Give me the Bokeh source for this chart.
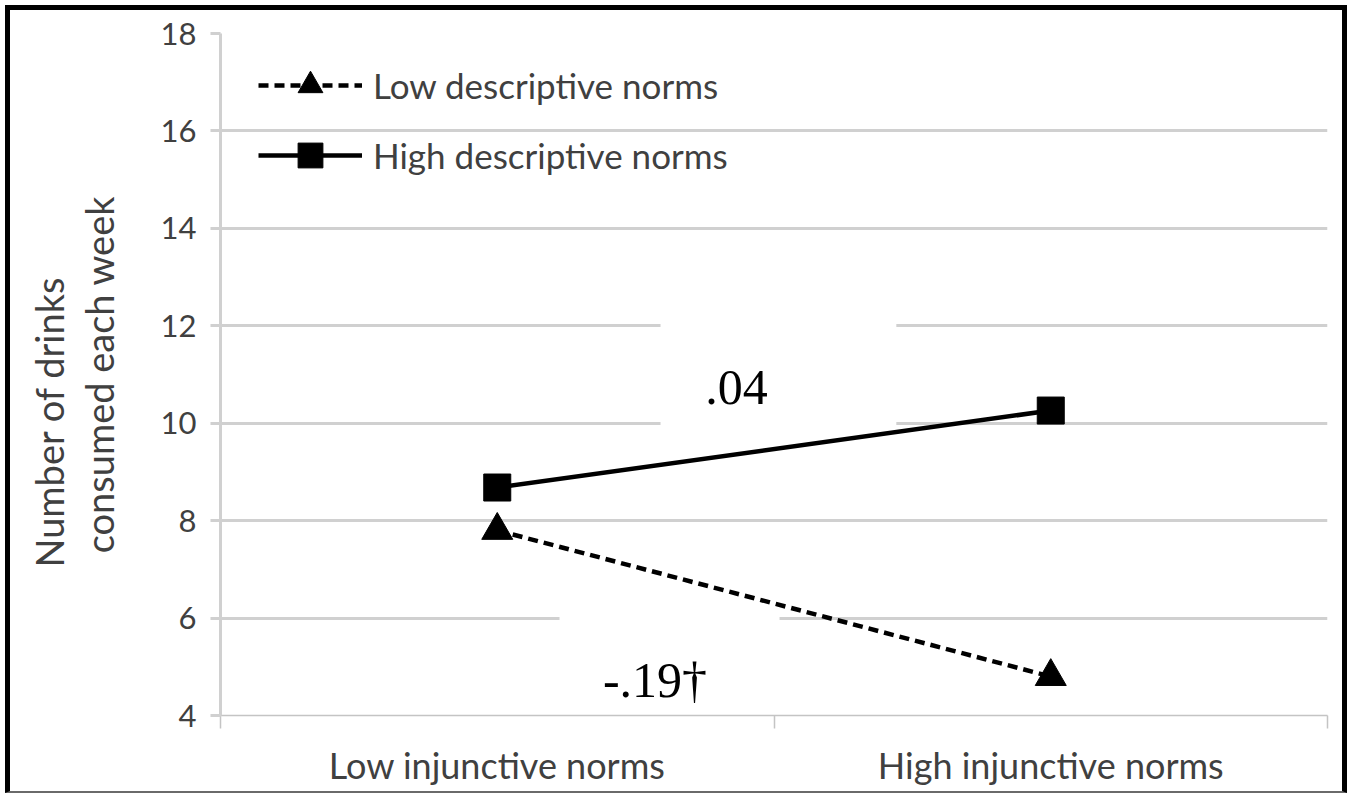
from bokeh.plotting import figure
from bokeh.models import (FixedTicker, Legend, LegendItem, Label, BoxAnnotation, Range1d, Title)
from bokeh.embed import file_html
from bokeh.resources import INLINE

# ---- data ----
categories = ["Low injunctive norms", "High injunctive norms"]
series_names = ["Low descriptive norms", "High descriptive norms"]
low_desc = [7.8, 4.8]
high_desc = [8.68, 10.26]
y_ticks = [4, 6, 8, 10, 12, 14, 16, 18]
y_label_lines = ["Number of drinks", "consumed each week"]
slope_labels = [".04", "-.19\u2020"]

# ---- layout constants ----
W, H = 1342, 788
SANS = "Lato"
SERIF = "Liberation Serif"
TXT = "#404040"
GRID = "#d0d0d0"

x_pos = [i + 0.5 for i in range(len(categories))]

p = figure(width=W, height=H, output_backend="svg", toolbar_location=None,
           x_range=Range1d(0, len(categories)), y_range=Range1d(y_ticks[0], y_ticks[-1]),
           min_border_left=210, min_border_right=25, min_border_top=23,
           min_border_bottom=83)
p.outline_line_color = None
p.background_fill_color = "white"
p.border_fill_color = "white"
p.styles = {"margin-left": "5px", "margin-top": "5px", "border": "5px solid black",
            "border-bottom": "2px solid #6a6a6a"}

# grid
p.xgrid.visible = False
p.ygrid.ticker = FixedTicker(ticks=y_ticks)
p.ygrid.grid_line_color = GRID
p.ygrid.grid_line_width = 3

# y axis
p.yaxis.ticker = FixedTicker(ticks=y_ticks)
p.yaxis.axis_line_color = GRID
p.yaxis.axis_line_width = 3
p.yaxis.major_tick_out = 10
p.yaxis.major_tick_in = 0
p.yaxis.major_tick_line_color = GRID
p.yaxis.major_tick_line_width = 3
p.yaxis.minor_tick_line_color = None
p.yaxis.major_label_text_font = SANS
p.yaxis.major_label_text_font_size = "31px"
p.yaxis.major_label_text_color = TXT
p.yaxis.major_label_standoff = 14
# second line of the y title is the axis label; first line is a title beyond it
p.yaxis.axis_label = y_label_lines[1]
p.yaxis.axis_label_text_font = SANS
p.yaxis.axis_label_text_font_size = "38px"
p.yaxis.axis_label_text_font_style = "normal"
p.yaxis.axis_label_text_color = TXT
p.yaxis.axis_label_standoff = 36

p.add_layout(Title(text=y_label_lines[0], align="left", vertical_align="bottom",
                   offset=148, standoff=2, text_font=SANS, text_font_size="38px",
                   text_color=TXT, text_font_style="normal"), "left")

# x axis (labels at category centres, ticks at category boundaries)
p.xaxis.ticker = FixedTicker(ticks=x_pos, minor_ticks=list(range(len(categories) + 1)))
p.xaxis.major_label_overrides = {x: c for x, c in zip(x_pos, categories)}
p.xaxis.axis_line_color = "#c4c4c4"
p.xaxis.axis_line_width = 1.5
p.xaxis.major_tick_line_color = None
p.xaxis.major_tick_out = 0
p.xaxis.major_tick_in = 0
p.xaxis.minor_tick_out = 13
p.xaxis.minor_tick_in = 0
p.xaxis.minor_tick_line_color = "#c4c4c4"
p.xaxis.minor_tick_line_width = 1.5
p.xaxis.major_label_text_font = SANS
p.xaxis.major_label_text_font_size = "36px"
p.xaxis.major_label_text_color = TXT
p.xaxis.major_label_standoff = 14

# white boxes behind slope labels
box1 = BoxAnnotation(left=0.795, right=1.221, bottom=9.94, top=12.06,
                     fill_color="white", fill_alpha=1, line_color=None, level="glyph")
box2 = BoxAnnotation(left=0.6125, right=1.01, bottom=3.94, top=6.06,
                     fill_color="white", fill_alpha=1, line_color=None, level="glyph")
p.add_layout(box1)
p.add_layout(box2)

# series
r_low_line = p.line(x_pos, low_desc, line_color="black", line_width=4.5, line_dash="10 6")
r_low_pts = p.scatter(x_pos, low_desc, marker="triangle", size=31, color="black")
r_high_line = p.line(x_pos, high_desc, line_color="black", line_width=4.5)
r_high_pts = p.scatter(x_pos, high_desc, marker="square", size=27, color="black")

legend = Legend(items=[
    LegendItem(label=series_names[0], renderers=[r_low_line, r_low_pts]),
    LegendItem(label=series_names[1], renderers=[r_high_line, r_high_pts]),
], location=(38, 529), glyph_width=104, glyph_height=62, label_height=62,
    spacing=8, label_standoff=11, padding=0, margin=0,
    border_line_color=None, background_fill_alpha=0,
    label_text_font=SANS, label_text_font_size="35px", label_text_color=TXT)
p.add_layout(legend)

# slope labels
slope_x = [0.9323, 0.785]
slope_y = [10.733, 4.739]
for t, xs, ys in zip(slope_labels, slope_x, slope_y):
    p.add_layout(Label(x=xs, y=ys, text=t, text_align="center",
                       text_baseline="alphabetic", text_font=SERIF,
                       text_font_size="50px", text_color="black"))

open("out.html", "w").write(file_html(p, INLINE))
